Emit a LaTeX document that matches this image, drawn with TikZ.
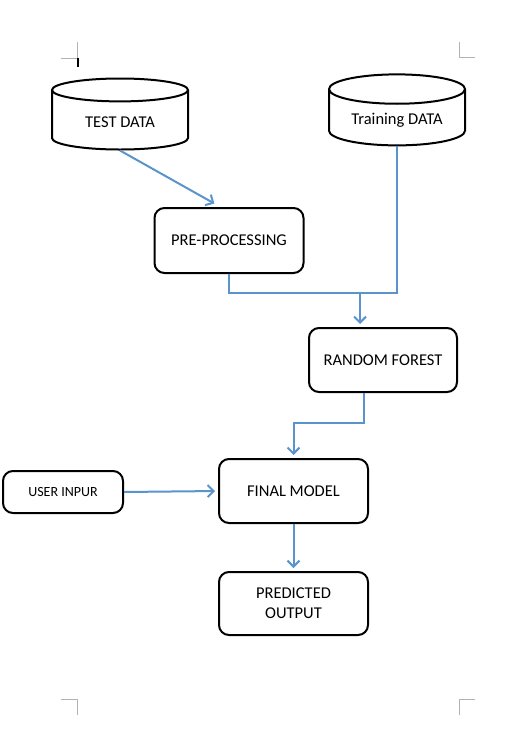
\documentclass[tikz,border=0pt]{standalone}
\usepackage{fontspec}
\setmainfont{Carlito}
\usetikzlibrary{shapes.geometric,arrows.meta,positioning}

\definecolor{linkblue}{RGB}{91,148,205}
\tikzset{
    store/.style={cylinder, shape border rotate=90, aspect=0.3, draw, line width=2pt,
        minimum width=136pt, minimum height=71pt, fill=white},
    stepbox/.style={draw, line width=2pt, rounded corners=10pt, fill=white, align=center},
    link/.style={linkblue, line width=2pt},
    flow/.style={link, -{Straight Barb[length=6pt,width=12pt,line width=2pt]}, shorten >=3pt},
    cornermark/.style={gray!60, line width=0.7pt}
}

\begin{document}
\begin{tikzpicture}[x=1pt, y=-1pt, font=\fontsize{16.5}{20}\selectfont]
    \useasboundingbox (0,0) rectangle (517,730);

    % Page corner marks
    \draw[cornermark] (61,58) -- (77,58) -- (77,42);
    \draw[cornermark] (459,42) -- (459,57) -- (475,57);
    \draw[cornermark] (61,699) -- (77,699) -- (77,715);
    \draw[cornermark] (475,699) -- (459,699) -- (459,715);
    \draw[line width=2pt] (78,58) -- (78,67);

    % Data stores
    \node[store] (test) at (120,122) {TEST DATA};
    \node[store] (train) at (397,120) {Training DATA};

    % Process boxes
    \node[stepbox, minimum width=149pt, minimum height=65pt] (pre) at (229,240.5) {PRE-PROCESSING};
    \node[stepbox, minimum width=148pt, minimum height=64pt] (rf) at (383,360) {RANDOM FOREST};
    \node[stepbox, minimum width=149pt, minimum height=64pt] (final) at (293.5,491) {FINAL MODEL};
    \node[stepbox, minimum width=120pt, minimum height=42pt, font=\fontsize{14}{17}\selectfont] (user) at (63,492) {USER INPUR};
    \node[stepbox, minimum width=149pt, minimum height=63pt] (pred) at (293.5,603.5) {PREDICTED\\OUTPUT};

    % Connectors
    \coordinate (join) at (360,293);
    \coordinate (bend) at (293.5,423);
    \draw[flow] (test.south) -- ([xshift=-12pt,yshift=2pt]pre.north);
    \draw[link] (pre.south) |- (join) -| (train.south);
    \draw[flow] (join) -- (join |- rf.north);
    \draw[flow] ([xshift=-19pt]rf.south) |- (bend) -- (final.north);
    \draw[flow] (user.east) -- (final.west);
    \draw[flow] (final.south) -- (pred.north);
\end{tikzpicture}
\end{document}
